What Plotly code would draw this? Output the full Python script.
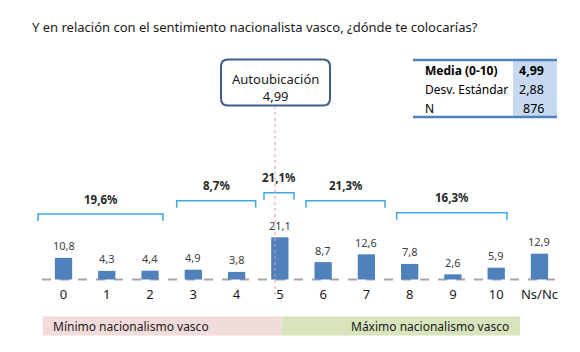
import plotly.graph_objects as go

# ---- data ----
categories = ["0", "1", "2", "3", "4", "5", "6", "7", "8", "9", "10", "Ns/Nc"]
values = [10.8, 4.3, 4.4, 4.9, 3.8, 21.1, 8.7, 12.6, 7.8, 2.6, 5.9, 12.9]
value_labels = ["10,8", "4,3", "4,4", "4,9", "3,8", "21,1", "8,7", "12,6", "7,8", "2,6", "5,9", "12,9"]
group_labels = ["19,6%", "8,7%", "21,1%", "21,3%", "16,3%"]
title_text = "Y en relación con el sentimiento nacionalista vasco, ¿dónde te colocarías?"
box_title = "Autoubicación"
box_value = "4,99"
table_rows = ["Media (0-10)", "Desv. Estándar", "N"]
table_vals = ["4,99", "2,88", "876"]
band_left = "Mínimo nacionalismo vasco"
band_right = "Máximo nacionalismo vasco"

W, H = 580, 352
FONT = "Noto Sans"
X0, DX = 63.5, 43.27      # pixel centre of category 0, spacing
Y0, DY = 279.5, 2.0       # baseline pixel, px per unit

def px2x(px):
    return (px - X0) / DX

def py2y(py):
    return (Y0 - py) / DY

xs = list(range(len(categories)))

fig = go.Figure()
fig.add_trace(go.Bar(x=xs, y=values, width=0.4, marker=dict(color="#4F81BD", line=dict(width=0)),
                     hoverinfo="skip"))

shapes = []
ann = []

# baseline dashed
shapes.append(dict(type="line", xref="x", yref="y", x0=px2x(42), x1=px2x(559), y0=0, y1=0,
                   line=dict(color="#A6A6A6", width=2, dash="dash"), layer="below"))

# value labels
for x, v, t in zip(xs, values, value_labels):
    ann.append(dict(x=x, y=v, xref="x", yref="y", text=t, showarrow=False, yanchor="middle",
                    yshift=12, font=dict(family=FONT, size=11, color="#404040")))

# group brackets (pixel extents)
g_x0 = [38, 176.7, 264, 306, 396.7]
g_x1 = [163, 255.7, 294, 385, 507]
g_y = [214, 200.7, 192.7, 200.7, 212.7]
for a, b, yy, lab in zip(g_x0, g_x1, g_y, group_labels):
    xa, xb, yt, ydn = px2x(a), px2x(b), py2y(yy), py2y(yy + 7)
    shapes.append(dict(type="path", xref="x", yref="y",
                       path=f"M {xa},{ydn} L {xa},{yt} L {xb},{yt} L {xb},{ydn}",
                       line=dict(color="#3DA9E0", width=1.5)))
    ann.append(dict(x=(xa + xb) / 2, y=py2y(yy - 15), xref="x", yref="y", text=f"<b>{lab}</b>",
                    showarrow=False, yanchor="middle", font=dict(family=FONT, size=11.5, color="#262626")))

# red dotted line
shapes.append(dict(type="line", xref="x", yref="y", x0=px2x(275), x1=px2x(275), y0=py2y(106), y1=py2y(297),
                   line=dict(color="#E39A9A", width=1, dash="dot")))

def pxp(px):
    return px / W

def pyp(py):
    return 1 - py / H

# rounded box
bx0, bx1, by0, by1, r = 221, 330, 59.5, 105.5, 7
def P(px, py):
    return f"{pxp(px)},{pyp(py)}"
path = (f"M {P(bx0 + r, by0)} L {P(bx1 - r, by0)} Q {P(bx1, by0)} {P(bx1, by0 + r)} "
        f"L {P(bx1, by1 - r)} Q {P(bx1, by1)} {P(bx1 - r, by1)} L {P(bx0 + r, by1)} "
        f"Q {P(bx0, by1)} {P(bx0, by1 - r)} L {P(bx0, by0 + r)} Q {P(bx0, by0)} {P(bx0 + r, by0)} Z")
shapes.append(dict(type="path", xref="paper", yref="paper", path=path, fillcolor="white",
                   line=dict(color="#3E5C8A", width=2)))
ann.append(dict(x=pxp(275.5), y=pyp(87), xref="paper", yref="paper",
                text=f"{box_title}<br>{box_value}", showarrow=False,
                yanchor="middle", font=dict(family=FONT, size=13, color="#1a1a1a")))

# table
shapes.append(dict(type="rect", xref="paper", yref="paper", x0=pxp(513), x1=pxp(557), y0=pyp(60), y1=pyp(117),
                   fillcolor="#C6D9F1", line=dict(width=0), layer="below"))
for yy in (60, 117):
    shapes.append(dict(type="line", xref="paper", yref="paper", x0=pxp(413), x1=pxp(557), y0=pyp(yy), y1=pyp(yy),
                       line=dict(color="#4F81BD", width=2.5)))
row_y = [70, 90, 108]
for i, (lab, val, yy) in enumerate(zip(table_rows, table_vals, row_y)):
    bold = i == 0
    ann.append(dict(x=pxp(423), y=pyp(yy), xref="paper", yref="paper",
                    text=f"<b>{lab}</b>" if bold else lab, showarrow=False, xanchor="left", yanchor="middle",
                    font=dict(family=FONT, size=12, color="#000000")))
    ann.append(dict(x=pxp(546), y=pyp(yy), xref="paper", yref="paper",
                    text=f"<b>{val}</b>" if bold else val, showarrow=False, xanchor="right", yanchor="middle",
                    font=dict(family=FONT, size=12.5, color="#000000")))

# bottom band
shapes.append(dict(type="rect", xref="paper", yref="paper", x0=pxp(42.7), x1=pxp(281.7), y0=pyp(316.5), y1=pyp(335.5),
                   fillcolor="#F2DCDB", line=dict(width=0), layer="below"))
shapes.append(dict(type="rect", xref="paper", yref="paper", x0=pxp(281.7), x1=pxp(520), y0=pyp(316.5), y1=pyp(335.5),
                   fillcolor="#D8E4BC", line=dict(width=0), layer="below"))
ann.append(dict(x=pxp(50.5), y=pyp(326), xref="paper", yref="paper", text=band_left, showarrow=False,
                xanchor="left", yanchor="middle", font=dict(family=FONT, size=12, color="#1a1a1a")))
ann.append(dict(x=pxp(511), y=pyp(326), xref="paper", yref="paper", text=band_right, showarrow=False,
                xanchor="right", yanchor="middle", font=dict(family=FONT, size=12, color="#1a1a1a")))

# title
ann.append(dict(x=pxp(30), y=pyp(27), xref="paper", yref="paper", text=title_text, showarrow=False,
                xanchor="left", yanchor="middle", font=dict(family=FONT, size=13, color="#1a1a1a")))

fig.update_layout(
    width=W, height=H, margin=dict(l=0, r=0, t=0, b=0),
    paper_bgcolor="white", plot_bgcolor="white", showlegend=False,
    xaxis=dict(range=[px2x(0), px2x(W)], tickvals=xs, ticktext=categories, anchor="free",
               position=pyp(285), showgrid=False, zeroline=False, showline=False, ticks="",
               tickfont=dict(family=FONT, size=13, color="#1a1a1a"), fixedrange=True),
    yaxis=dict(range=[py2y(H), py2y(0)], visible=False, fixedrange=True),
    shapes=shapes, annotations=ann,
)

fig.write_html("out.html")
